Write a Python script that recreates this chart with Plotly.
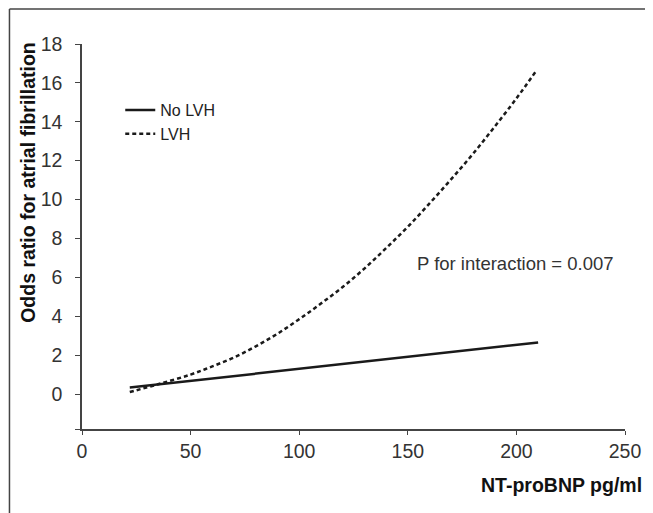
import plotly.graph_objects as go

# Data
nolvh_x = [22, 210]
nolvh_y = [0.33, 2.65]

lvh_x = [22, 35, 50, 60, 70, 80, 90, 100, 110, 120, 130, 140, 150, 160, 170, 180, 190, 200, 209]
lvh_y = [0.1, 0.5, 1.0, 1.42, 1.88, 2.45, 3.1, 3.85, 4.65, 5.5, 6.45, 7.5, 8.6, 9.8, 11.05, 12.35, 13.75, 15.2, 16.6]

x_ticks = [0, 50, 100, 150, 200, 250]
y_ticks = [0, 2, 4, 6, 8, 10, 12, 14, 16, 18]

x_title = "NT-proBNP pg/ml"
y_title = "Odds ratio for atrial fibrillation"
p_text = "P for interaction = 0.007"

# absolute page geometry (page has 8px body margin)
OFF = 8
PAGE_W, PAGE_H = 653, 513
L_abs, R_abs, T_abs, B_abs = 81.5, 628, 44, 429
W = PAGE_W - OFF
H = PAGE_H - OFF
pw = R_abs - L_abs
ph = B_abs - T_abs


def px(xa):
    return (xa - L_abs) / pw


def py(ya):
    return (B_abs - ya) / ph


fig = go.Figure()
fig.add_trace(go.Scatter(x=nolvh_x, y=nolvh_y, mode="lines", name="No LVH",
                         line=dict(color="#1a1a1a", width=2.5)))
fig.add_trace(go.Scatter(x=lvh_x, y=lvh_y, mode="lines", name="LVH", line_shape="spline",
                         line=dict(color="#1a1a1a", width=2.5, dash="4px,3px")))

FONT = "Liberation Sans, Arial, sans-serif"
axis_font = dict(family=FONT, size=19.5, color="#333")

fig.update_layout(
    width=W, height=H,
    margin=dict(l=L_abs - OFF, r=PAGE_W - R_abs, t=T_abs - OFF, b=PAGE_H - B_abs),
    paper_bgcolor="white", plot_bgcolor="white",
    showlegend=True,
    legend=dict(x=px(120), y=py(93), xanchor="left", yanchor="top",
                bgcolor="rgba(0,0,0,0)", itemwidth=30, tracegroupgap=0,
                font=dict(family=FONT, size=16, color="#222")),
    xaxis=dict(range=[0, 250], tickvals=x_ticks, ticktext=[str(v) for v in x_ticks],
               showgrid=False, zeroline=False, showline=True, linecolor="#444", linewidth=1.5,
               ticks="outside", ticklen=4, tickcolor="#444", tickfont=axis_font),
    yaxis=dict(range=[-1.8, 18], tickvals=y_ticks + [-1.8], ticktext=[str(v) for v in y_ticks] + [""],
               showgrid=False, zeroline=False, showline=True, linecolor="#444", linewidth=1.5,
               ticks="outside", ticklen=5, tickcolor="#444", tickfont=axis_font,
               ticklabelstandoff=9),
    annotations=[
        dict(text="<b>" + x_title + "</b>", xref="paper", yref="paper",
             x=px(647), y=py(485), xanchor="right", yanchor="middle",
             showarrow=False, font=dict(family=FONT, size=19.5, color="#111")),
        dict(text="<b>" + y_title + "</b>", xref="paper", yref="paper",
             x=px(27), y=py(182), xanchor="center", yanchor="middle",
             textangle=-90, showarrow=False,
             font=dict(family=FONT, size=19.5, color="#111")),
        dict(text=p_text, xref="paper", yref="paper",
             x=px(417), y=py(263), xanchor="left", yanchor="middle",
             showarrow=False, font=dict(family=FONT, size=18.5, color="#333")),
    ],
    shapes=[
        dict(type="line", xref="paper", yref="paper",
             x0=px(8.5), x1=px(8.5), y0=py(520), y1=py(9),
             line=dict(color="#444", width=1.5)),
        dict(type="line", xref="paper", yref="paper",
             x0=px(8.5), x1=px(660), y0=py(9), y1=py(9),
             line=dict(color="#444", width=1.5)),
    ],
)

fig.write_html("out.html")
